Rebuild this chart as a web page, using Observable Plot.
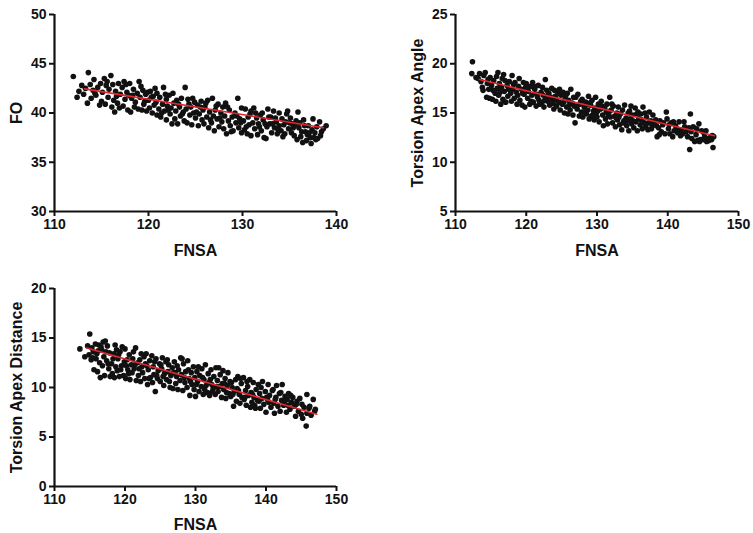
<!DOCTYPE html>
<html>
<head>
<meta charset="utf-8">
<script src="https://cdn.jsdelivr.net/npm/d3@7"></script>
<script src="https://cdn.jsdelivr.net/npm/@observablehq/plot@0.6"></script>
<style>
  html, body { margin: 0; padding: 0; background: #fff; overflow: hidden; }
  #wrap { position: relative; width: 753px; height: 533px; }
  #wrap svg { position: absolute; overflow: visible; }
  #wrap g[aria-label$="axis label"] text { font-size: 16px; font-weight: bold; }
</style>
</head>
<body>
<div id="wrap"></div>
<script>
// ---- Data ----
const xLabel = "FNSA";
const panelTitles = ["FO", "Torsion Apex Angle", "Torsion Apex Distance"];

const foTicksX = [110, 120, 130, 140];
const foTicksY = [30, 35, 40, 45, 50];
const angleTicksX = [110, 120, 130, 140, 150];
const angleTicksY = [5, 10, 15, 20, 25];
const distTicksX = [110, 120, 130, 140, 150];
const distTicksY = [0, 5, 10, 15, 20];

const foFit = [[113.2, 42.45], [138.6, 38.5]];
const angleFit = [[113.4, 18.4], [146.6, 12.7]];
const distFit = [[114.6, 14.0], [147.2, 7.3]];

const foPoints = [
[112.0,43.7],[112.4,41.6],[112.6,42.2],[112.9,42.8],[113.1,41.9],[113.3,42.5],
[113.5,41.0],[113.6,44.1],[113.8,42.9],[113.9,41.5],[114.1,42.3],[114.2,43.4],[114.4,41.8],[114.6,42.6],
[114.8,40.8],[114.9,43.0],[115.0,41.2],[115.1,42.1],[115.3,43.5],[115.4,40.9],[115.5,42.8],[115.7,41.6],[115.8,42.4],
[116.0,43.8],[116.1,40.6],[116.2,42.9],[116.3,41.3],[116.4,40.1],[116.5,42.2],[116.6,41.7],[116.8,43.0],[116.9,40.5],
[117.0,41.9],[117.2,42.6],[117.3,40.7],[117.4,43.2],[117.5,41.4],[117.7,42.1],[117.8,40.3],[117.9,41.8],
[118.0,43.0],[118.1,40.1],[118.2,41.5],[118.4,42.4],[118.5,40.6],[118.6,41.1],[118.8,42.0],[118.9,40.4],
[119.0,43.2],[119.1,41.6],[119.3,40.3],[119.4,42.3],[119.5,40.9],[119.7,41.9],[119.8,40.2],[119.9,42.1],
[120.0,41.3],[120.1,40.5],[120.2,42.2],[120.4,40.0],[120.5,41.7],[120.6,40.8],[120.8,41.1],[120.9,39.8],[120.9,42.0],
[121.1,40.4],[121.2,41.6],[121.3,39.6],[121.5,40.9],[121.6,42.6],[121.7,40.2],[121.9,41.4],[121.9,39.3],
[122.0,40.7],[122.2,41.8],[122.3,39.9],[122.4,40.5],[122.5,38.9],[122.7,41.0],[122.8,39.4],[122.9,40.2],
[123.0,41.3],[123.1,38.9],[123.3,40.6],[123.4,39.7],[123.5,41.5],[123.7,40.1],[123.8,39.2],[123.9,42.6],
[124.0,40.4],[124.1,39.0],[124.2,41.4],[124.4,39.8],[124.5,40.6],[124.6,38.8],[124.8,40.0],[124.9,41.1],
[125.0,39.5],[125.2,40.8],[125.3,38.7],[125.4,39.9],[125.6,41.2],[125.7,39.3],[125.8,40.3],[125.9,38.9],
[126.0,40.6],[126.2,39.6],[126.3,41.3],[126.4,38.5],[126.5,40.1],[126.7,39.0],[126.8,41.5],[126.9,39.7],
[127.0,38.2],[127.1,40.3],[127.3,39.4],[127.4,40.9],[127.5,38.6],[127.7,40.0],[127.8,39.1],[127.9,40.6],
[128.0,38.4],[128.1,39.7],[128.2,41.0],[128.3,37.9],[128.5,39.2],[128.6,40.3],[128.7,38.7],[128.9,39.6],
[129.0,38.2],[129.2,40.0],[129.3,39.0],[129.5,41.5],[129.6,38.5],[129.7,39.4],[129.9,40.5],[129.9,38.0],
[130.1,39.2],[130.2,38.3],[130.3,40.4],[130.5,37.9],[130.6,39.6],[130.7,38.8],[130.9,40.2],[130.9,37.7],
[131.1,39.0],[131.2,40.5],[131.3,38.4],[131.5,39.5],[131.6,37.8],[131.7,38.9],[131.9,39.8],
[132.0,38.2],[132.2,39.3],[132.3,37.5],[132.5,37.4],[132.6,38.6],[132.7,40.4],[132.9,38.9],
[133.0,39.6],[133.1,38.0],[133.3,40.2],[133.4,38.5],[133.6,39.1],[133.7,37.9],[133.9,38.7],[133.9,40.0],
[134.1,38.2],[134.2,39.4],[134.4,38.8],[134.5,37.9],[134.7,39.9],[134.8,40.2],[134.9,38.4],
[135.0,39.0],[135.2,38.0],[135.3,38.9],[135.5,37.7],[135.7,39.2],[135.8,37.3],[135.9,40.1],
[136.0,38.5],[136.2,37.6],[136.4,37.0],[136.5,39.3],[136.7,38.1],[136.8,37.2],
[137.0,38.7],[137.2,37.5],[137.4,38.3],[137.6,37.5],[137.8,37.3],[137.9,38.6],
[138.2,39.1],[138.4,38.1],[138.6,38.4],[138.9,38.7],
[114.3,42.0],[115.6,43.2],[116.7,41.0],[117.6,42.9],[118.3,41.8],[119.2,42.7],[119.6,41.2],[120.3,41.6],
[120.7,42.5],[121.4,40.0],[121.8,41.9],[122.1,40.3],[122.6,42.0],[123.2,40.9],[123.6,39.9],[124.3,40.9],
[124.7,41.5],[125.1,40.1],[125.5,40.6],[126.1,41.0],[126.6,39.3],[127.2,40.7],[127.6,39.5],[128.4,40.6],
[128.8,38.1],[129.4,39.7],[129.8,39.0],[130.4,38.6],[130.8,39.9],[131.4,40.0],[131.8,38.6],[132.1,40.0],
[132.4,38.9],[132.8,39.6],[133.2,38.9],[133.5,39.5],[133.8,38.3],[134.3,37.6],[134.6,39.1],[135.1,39.5],
[135.4,38.5],[135.6,38.8],[136.1,39.0],[136.3,38.1],[136.6,38.7],[136.9,37.8],[137.1,38.0],[137.3,36.9],
[137.5,39.4],[137.7,38.0],[138.0,37.4],[138.3,37.7]
];

const anglePoints = [
[112.4,20.2],[112.3,19.0],[112.9,18.6],
[113.4,19.0],[113.6,18.2],[113.8,17.6],[114.0,18.8],[113.9,17.3],
[114.2,19.1],[114.4,16.6],[114.5,18.0],[114.7,17.4],[114.9,18.6],[114.8,16.5],
[115.1,17.8],[115.2,16.4],[115.4,18.3],[115.6,17.0],[115.7,16.2],[115.8,18.7],[115.9,17.5],
[116.0,19.1],[116.1,16.8],[116.2,18.0],[116.4,15.9],[116.5,17.6],[116.6,18.5],[116.7,16.4],[116.9,17.2],
[117.0,18.3],[117.1,16.1],[117.3,17.8],[117.4,16.7],[117.6,18.2],[117.8,17.0],[117.9,16.2],
[118.0,18.8],[118.1,17.4],[118.3,16.5],[118.4,18.1],[118.6,17.1],[118.7,15.9],[118.9,17.7],
[119.0,18.5],[119.1,16.3],[119.3,17.4],[119.4,15.8],[119.6,18.1],[119.7,16.9],[119.9,17.6],[119.8,15.6],
[120.0,18.0],[120.2,16.5],[120.3,17.2],[120.5,15.9],[120.6,17.7],[120.8,16.8],[120.9,18.1],
[121.0,16.1],[121.2,17.4],[121.4,15.7],[121.5,16.9],[121.7,17.8],[121.8,16.3],[121.9,15.9],
[122.1,17.1],[122.2,16.0],[122.4,16.8],[122.5,15.6],[122.7,18.4],[122.8,16.5],[122.9,17.3],
[123.0,16.2],[123.2,17.0],[123.3,15.8],[123.5,16.6],[123.6,17.5],[123.8,16.0],[123.9,15.4],
[124.0,17.3],[124.2,16.4],[124.3,15.7],[124.5,17.0],[124.6,16.1],[124.8,15.3],[124.9,16.8],
[125.1,15.9],[125.2,17.1],[125.4,15.0],[125.5,16.5],[125.7,15.6],[125.8,17.0],[125.9,14.9],
[126.0,16.3],[126.2,15.3],[126.3,17.4],[126.5,16.0],[126.6,14.8],[126.8,15.7],[126.9,14.0],
[127.0,16.6],[127.2,15.4],[127.3,16.9],[127.5,14.7],[127.6,15.9],[127.8,15.1],[127.9,16.4],
[128.0,14.6],[128.2,15.6],[128.4,16.1],[128.5,14.9],[128.7,15.3],[128.8,16.7],[128.9,14.4],
[129.1,15.8],[129.2,14.7],[129.3,16.3],[129.5,15.2],[129.6,14.3],[129.8,16.6],[129.9,15.0],
[130.0,14.6],[130.2,15.9],[130.3,14.1],[130.5,15.4],[130.6,16.2],[130.8,14.8],[130.9,13.7],
[131.1,15.5],[131.2,14.4],[131.4,15.9],[131.5,13.9],[131.7,15.1],[131.8,16.6],[131.9,14.6],
[132.0,15.3],[132.2,14.0],[132.3,15.7],[132.5,14.7],[132.6,13.6],[132.8,15.0],[132.9,14.3],
[133.0,15.6],[133.2,13.8],[133.3,14.9],[133.5,13.3],[133.6,15.3],[133.8,14.2],[133.9,15.8],
[134.1,14.5],[134.2,13.7],[134.4,15.0],[134.5,13.2],[134.7,14.4],[134.8,15.7],[134.9,13.9],
[135.0,14.8],[135.2,13.5],[135.4,15.5],[135.5,14.1],[135.7,13.2],[135.8,15.1],[135.9,14.4],
[136.1,13.8],[136.2,14.9],[136.4,13.4],[136.5,15.6],[136.7,14.0],[136.9,13.6],
[137.0,14.6],[137.2,13.3],[137.4,15.1],[137.6,14.2],[137.8,13.7],[137.9,14.8],
[138.1,13.9],[138.3,14.3],[138.5,12.6],[138.7,13.5],[138.9,14.2],
[139.1,13.1],[139.3,13.8],[139.6,12.9],[139.8,15.1],[139.9,14.4],
[140.1,13.4],[140.3,12.9],[140.5,14.0],[140.7,12.6],[140.9,13.2],
[141.1,13.7],[141.4,13.0],[141.6,14.1],[141.9,13.3],
[142.1,12.9],[142.3,14.1],[142.6,13.1],[142.8,12.6],
[143.0,13.5],[143.1,11.3],[143.2,14.9],[143.4,12.4],[143.6,13.6],[143.8,12.1],
[144.0,12.8],[144.2,12.2],[144.4,13.9],[144.6,12.3],[144.8,13.2],
[145.0,12.3],[145.2,12.6],[145.4,13.2],[145.6,12.4],[145.8,12.2],
[146.0,12.5],[146.3,12.7],[146.4,11.5],[146.5,12.6],
[113.2,18.5],[114.6,18.4],[115.3,17.3],[116.3,17.1],[116.8,18.9],[117.5,17.4],[118.2,17.9],[118.8,16.8],
[119.5,17.0],[120.1,17.4],[120.7,16.2],[121.1,17.7],[121.6,16.6],[122.3,17.6],[122.6,16.3],[123.1,16.8],
[123.7,16.3],[124.1,16.7],[124.7,17.4],[125.3,16.1],[125.6,16.8],[126.1,15.8],[126.7,16.6],[127.1,15.7],
[127.7,16.2],[128.1,15.1],[128.6,15.9],[129.0,16.0],[129.4,14.8],[129.7,15.5],[130.1,15.2],[130.7,15.7],
[131.3,15.1],[131.6,14.8],[132.1,15.9],[132.7,14.5],[133.1,14.6],[133.7,14.0],[134.3,14.2],[134.6,15.2],
[135.1,14.2],[135.6,14.9],[136.3,14.3],[136.8,15.0],[137.3,14.0],[137.7,13.4],[138.4,13.7],[138.8,12.8],
[139.4,14.0],[140.2,13.8],[140.8,14.1],[141.3,13.4],[141.8,12.7],[142.4,13.6],[143.3,13.1],[144.1,13.4],
[144.5,12.1],[145.1,13.0],[145.5,12.1],[146.2,12.3]
];

const distPoints = [
[113.6,13.9],[114.3,13.1],[114.7,14.2],[114.9,13.3],
[115.0,15.4],[115.2,12.8],[115.3,14.0],[115.5,13.6],[115.6,11.8],[115.8,14.4],[115.9,12.9],
[116.0,13.4],[116.1,11.6],[116.3,14.3],[116.4,12.5],[116.5,11.0],[116.7,13.8],[116.8,12.2],[116.9,14.6],
[117.0,13.1],[117.1,11.2],[117.2,14.7],[117.4,12.7],[117.5,14.2],[117.7,11.9],[117.8,13.5],[117.9,11.1],
[118.1,12.4],[118.2,11.4],[118.4,13.4],[118.5,11.0],[118.7,12.1],[118.8,13.8],[118.9,11.7],
[119.0,12.9],[119.2,11.1],[119.3,13.6],[119.5,12.2],[119.6,14.1],[119.8,11.2],[119.9,12.6],
[120.0,13.9],[120.1,10.9],[120.3,12.8],[120.4,11.8],[120.6,13.3],[120.7,10.8],[120.9,12.3],
[121.0,11.5],[121.2,13.6],[121.3,11.9],[121.5,14.0],[121.6,10.7],[121.8,12.5],[121.9,11.2],
[122.1,12.8],[122.2,10.6],[122.4,12.1],[122.5,11.5],[122.7,13.1],[122.8,10.9],[122.9,12.4],
[123.0,13.4],[123.2,10.3],[123.3,11.8],[123.5,12.7],[123.6,11.0],[123.8,13.2],[123.9,10.5],
[124.0,12.1],[124.1,11.3],[124.3,9.6],[124.4,12.9],[124.6,10.9],[124.7,11.7],[124.9,12.4],
[125.0,10.6],[125.2,11.9],[125.3,13.0],[125.5,10.2],[125.6,11.4],[125.8,12.6],[125.9,10.8],
[126.1,11.6],[126.2,12.3],[126.4,10.0],[126.5,11.2],[126.7,12.0],[126.8,9.9],[126.9,11.5],
[127.0,12.6],[127.2,10.4],[127.3,11.1],[127.5,9.8],[127.6,11.8],[127.8,10.7],[127.9,13.0],
[128.0,11.3],[128.2,9.7],[128.3,12.4],[128.5,10.5],[128.6,11.6],[128.8,10.0],[128.9,12.7],
[129.1,10.9],[129.2,9.2],[129.4,11.5],[129.5,10.3],[129.7,12.1],[129.8,9.8],[129.9,11.0],
[130.0,9.1],[130.2,11.6],[130.3,10.6],[130.5,9.6],[130.6,11.2],[130.8,10.1],[130.9,11.9],
[131.1,9.3],[131.2,10.8],[131.4,12.3],[131.5,10.2],[131.7,9.5],[131.8,11.4],[131.9,10.5],
[132.0,9.2],[132.2,11.8],[132.3,10.3],[132.5,9.9],[132.6,11.1],[132.8,9.3],[132.9,12.0],
[133.1,10.7],[133.2,9.6],[133.4,10.1],[133.5,11.3],[133.7,9.0],[133.8,10.4],[133.9,11.7],
[134.0,9.8],[134.2,10.9],[134.3,8.9],[134.5,10.2],[134.6,11.5],[134.8,9.4],[134.9,10.6],
[135.0,9.1],[135.2,10.0],[135.4,8.1],[135.5,9.6],[135.7,10.8],[135.8,8.6],[135.9,9.9],
[136.0,11.1],[136.2,9.3],[136.3,8.4],[136.5,10.4],[136.6,9.0],[136.8,11.0],[136.9,8.8],
[137.1,9.7],[137.2,8.2],[137.4,10.1],[137.5,9.2],[137.7,10.8],[137.8,8.0],[137.9,9.5],
[138.0,8.5],[138.2,10.5],[138.3,9.0],[138.5,7.9],[138.6,9.8],[138.8,8.7],[138.9,10.3],
[139.1,9.4],[139.2,7.9],[139.4,8.9],[139.5,10.6],[139.7,8.3],[139.9,9.6],
[140.0,7.5],[140.2,8.8],[140.3,10.3],[140.5,9.2],[140.7,8.0],[140.9,9.7],
[141.1,8.4],[141.2,7.4],[141.4,9.0],[141.5,10.2],[141.7,8.1],[141.9,9.4],
[142.0,7.6],[142.2,8.7],[142.3,10.3],[142.5,8.2],[142.7,9.1],[142.9,7.5],
[143.0,8.8],[143.2,9.4],[143.4,7.8],[143.6,8.5],[143.8,9.0],
[144.0,8.1],[144.2,7.1],[144.4,8.6],[144.6,7.6],[144.8,8.9],
[145.0,7.3],[145.2,6.9],[145.4,8.0],[145.7,6.1],[145.8,7.4],[145.8,9.3],
[146.1,7.9],[146.4,7.2],[146.7,8.8],[146.9,7.6],[147.0,7.8],
[115.4,13.0],[116.2,13.7],[116.6,14.1],[117.3,13.6],[117.6,12.4],[118.3,12.9],[118.6,14.3],[119.1,13.3],
[119.4,11.8],[120.2,12.2],[120.5,11.4],[121.1,12.9],[121.4,12.3],[122.0,11.9],[122.3,13.4],[123.1,12.2],
[123.4,10.9],[124.2,12.6],[124.5,11.2],[125.1,12.3],[125.4,11.1],[126.0,12.8],[126.3,10.6],[127.1,11.5],
[127.4,12.2],[128.1,12.9],[128.4,11.0],[129.0,11.8],[129.3,10.6],[130.1,10.3],[130.4,12.1],[131.0,11.0],
[131.3,9.8],[132.1,10.8],[132.4,9.6],[133.0,10.1],[133.3,12.0],[134.1,10.4],[134.4,9.5],[135.1,10.5],
[135.3,9.3],[136.1,9.7],[136.4,10.9],[137.0,9.0],[137.3,10.6],[138.1,9.3],[138.4,8.2],[139.0,8.6],
[139.3,10.0],[140.1,9.0],[140.4,8.5],[141.0,9.8],[141.3,8.8],[142.1,9.5],[142.6,8.6],[143.1,8.2],
[143.5,9.2],[144.3,8.3],[145.1,8.3],[146.2,8.1]
];

// ---- Drawing ----
const wrap = document.getElementById("wrap");

function panel({points, fit, ticksX, ticksY, yLabel, left, top, width, height, margins, yLabelOffset, xLabelOffset}) {
  const xDom = [ticksX[0], ticksX[ticksX.length - 1]];
  const yDom = [ticksY[0], ticksY[ticksY.length - 1]];
  const chart = Plot.plot({
    width, height,
    marginLeft: margins[0], marginRight: margins[1], marginTop: margins[2], marginBottom: margins[3],
    style: {fontFamily: "'Liberation Sans', Arial, sans-serif", fontSize: "14px", fontWeight: "bold", color: "#111", background: "transparent"},
    x: {domain: xDom},
    y: {domain: yDom},
    marks: [
      Plot.axisX({ticks: ticksX, tickSize: 5, tickPadding: 3, strokeWidth: 2, label: xLabel, labelAnchor: "center", labelOffset: xLabelOffset, labelArrow: "none"}),
      Plot.axisY({ticks: ticksY, tickSize: 5, tickPadding: 3, strokeWidth: 2, label: yLabel, labelAnchor: "center", labelOffset: yLabelOffset, labelArrow: "none"}),
      Plot.ruleX([xDom[0]], {strokeWidth: 2.2, stroke: "#111"}),
      Plot.ruleY([yDom[0]], {strokeWidth: 2.2, stroke: "#111"}),
      Plot.dot(points, {x: d => d[0], y: d => d[1], r: 2.8, fill: "#111", stroke: "none"}),
      Plot.line(fit, {x: d => d[0], y: d => d[1], stroke: "#e3262e", strokeWidth: 1.6})
    ]
  });
  chart.style.left = left + "px";
  chart.style.top = top + "px";
  wrap.appendChild(chart);
}

panel({points: foPoints, fit: foFit, ticksX: foTicksX, ticksY: foTicksY, yLabel: panelTitles[0],
  left: 0, top: 0, width: 376, height: 266, margins: [54, 40, 14, 55], yLabelOffset: 44, xLabelOffset: 44});
panel({points: anglePoints, fit: angleFit, ticksX: angleTicksX, ticksY: angleTicksY, yLabel: panelTitles[1],
  left: 401, top: 0, width: 352, height: 266, margins: [54, 15, 14, 55], yLabelOffset: 44, xLabelOffset: 44});
panel({points: distPoints, fit: distFit, ticksX: distTicksX, ticksY: distTicksY, yLabel: panelTitles[2],
  left: 0, top: 274, width: 376, height: 259, margins: [54, 40, 14, 47], yLabelOffset: 44, xLabelOffset: 43});
</script>
</body>
</html>
